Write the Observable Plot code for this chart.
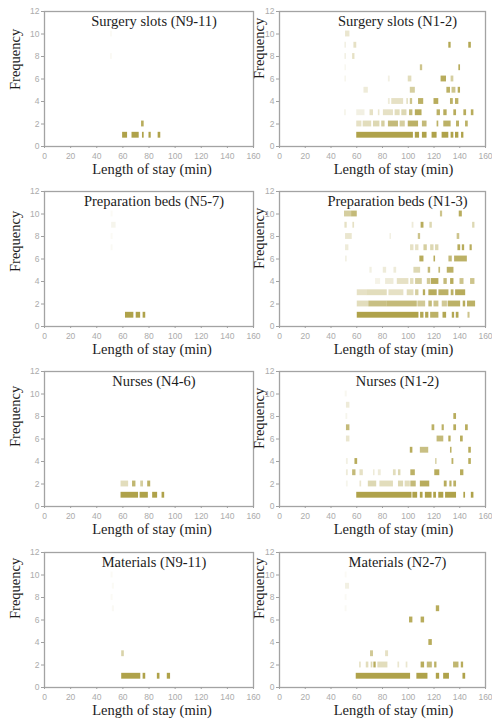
<!DOCTYPE html>
<html><head><meta charset="utf-8">
<script src="https://cdn.jsdelivr.net/npm/d3@7"></script>
<script src="https://cdn.jsdelivr.net/npm/@observablehq/plot@0.6"></script>
<style>
html,body{margin:0;padding:0;background:#fff;}
#wrap{position:relative;width:492px;height:719px;overflow:hidden;}
.panel{position:absolute;}
</style></head>
<body><div id="wrap"></div>
<script>
// x ticks and y ticks
const xTicks = [0, 20, 40, 60, 80, 100, 120, 140, 160];
const yTicks = [0, 2, 4, 6, 8, 10, 12];
const xLabel = "Length of stay (min)";
const yLabel = "Frequency";
const titles = ["Surgery slots (N9-11)", "Surgery slots (N1-2)", "Preparation beds (N5-7)", "Preparation beds (N1-3)",
                "Nurses (N4-6)", "Nurses (N1-2)", "Materials (N9-11)", "Materials (N2-7)"];

// each cell: [from min, to min, frequency, intensity]
const surgerySlotsN9_11 = [
  [59.8,63.6,1,0.95],[67,72.5,1,0.95],[75,76.3,1,0.95],[80,81.7,1,0.95],[87,89,1,0.95],
  [74.3,76.3,2,0.85],[50.5,52,10,0.05],[50.5,52,8,0.06]
];
const surgerySlotsN1_2 = [
  [60,104,1,0.95],[105.5,108.8,1,0.95],[111,114.6,1,0.95],[118.5,122.4,1,0.95],[126.3,131.5,1,0.95],[133.3,135.4,1,0.95],[136.7,139.3,1,0.95],[141.4,143.2,1,0.95],
  [60,64,2,0.3],[65,71.6,2,0.35],[73,78,2,0.4],[79.4,82,2,0.5],[84.6,92.4,2,0.7],[93.7,97.7,2,0.5],[100,108,2,0.8],[111,114.6,2,0.7],[122.4,123.7,2,0.8],[127.6,133.3,2,0.8],[137.5,139.8,2,0.8],[144.5,146.6,2,0.8],
  [50.5,52,3,0.1],[60,66.4,3,0.15],[70.3,73,3,0.3],[76.8,78,3,0.25],[80.7,88.5,3,0.3],[89.8,93.7,3,0.35],[95,99,3,0.4],[101,103.6,3,0.7],[105.5,110.7,3,0.85],[122.4,125,3,0.8],[127.6,130.2,3,0.85],[135.4,137.5,3,0.85],[143.2,145.3,3,0.85],[149,151,3,0.85],
  [84.6,86,4,0.2],[87.2,96.4,4,0.3],[99,100,4,0.4],[101.6,103.4,4,0.6],[108,112,4,0.8],[120,123.7,4,0.85],[132.8,135,4,0.8],[136.7,139.3,4,0.8],
  [65.6,69,5,0.2],[101.6,105.5,5,0.5],[130,132.8,5,0.8],[134,137,5,0.6],[138.8,140.6,5,0.85],
  [50.8,52,6,0.1],[84.6,86,6,0.15],[100,102.8,6,0.35],[125.5,129.7,6,0.85],[133.3,135.4,6,0.5],
  [50.8,52,7,0.08],[109.4,111.2,7,0.6],[139.3,140.6,7,0.85],
  [50.8,52,8,0.15],[56.8,58.6,8,0.3],
  [50.8,52,9,0.15],[57.8,60,9,0.3],[131.5,133.3,9,0.9],[147,149,9,0.9],
  [51.3,54.7,10,0.25]
];
const prepBedsN5_7 = [
  [62,68.4,1,0.95],[70.2,73.6,1,0.95],[75.5,77.5,1,0.95],
  [51,52.5,10,0.05],[51.4,54.8,9,0.1],[51,52.5,8,0.05],[51,52.5,7,0.06]
];
const prepBedsN1_3 = [
  [60.4,108.3,1,0.95],[109.6,112.2,1,0.9],[113.5,116,1,0.9],[117.4,123.8,1,0.8],[127,129.8,1,0.9],[134.2,136,1,0.9],[137.3,139.4,1,0.9],[146.4,148,1,0.6],
  [60.4,69.4,2,0.35],[69.4,83.7,2,0.65],[83.7,107,2,0.7],[107.5,113.5,2,0.55],[116,118.7,2,0.7],[120,123.8,2,0.6],[126.4,130.4,2,0.55],[131,140.7,2,0.8],[142.7,144.6,2,0.85],[146,152.3,2,0.8],
  [60.4,68,3,0.3],[68,83.7,3,0.35],[85,96.6,3,0.3],[99.2,104.4,3,0.35],[105.7,108.3,3,0.5],[111.7,113.5,3,0.85],[116,122.5,3,0.85],[123.8,131.6,3,0.8],[133.4,135.5,3,0.8],[136.8,144.6,3,0.85],
  [74.6,78.5,4,0.12],[82.4,88.9,4,0.2],[91.5,100.5,4,0.3],[101.8,104.4,4,0.35],[105.7,110.9,4,0.5],[114.8,117.4,4,0.55],[117.9,123.8,4,0.85],[127.7,130.3,4,0.7],[132.9,135.5,4,0.85],[140.2,143.3,4,0.6],[148.4,151.8,4,0.6],
  [70.2,72,5,0.15],[80.6,83.2,5,0.2],[88.9,91,5,0.2],[104.4,109.6,5,0.4],[115.5,117.4,5,0.7],[123.8,125.1,5,0.7],[130.3,135.5,5,0.8],
  [51.3,52.6,6,0.15],[109,112.2,6,0.85],[120,121.2,6,0.85],[131.6,134.2,6,0.7],[136,145.9,6,0.8],
  [51.3,53.9,7,0.2],[101.8,104.4,7,0.3],[105.7,108.3,7,0.3],[112.2,114.8,7,0.5],[117.4,120,7,0.4],[121.2,123.8,7,0.4],[138.6,140.7,7,0.85],[142,143.8,7,0.85],[148,149.7,7,0.85],
  [51.3,56.5,8,0.25],[85.8,87,8,0.15],[107.8,109.6,8,0.6],[138,140,8,0.6],
  [50.8,52.6,9,0.3],[57,58.3,9,0.3],[103,104.4,9,0.2],[110,112.2,9,0.85],[116.8,118.7,9,0.4],[150,151.8,9,0.4],
  [50.5,56,10,0.5],[56,60.4,10,0.7],[125,126.7,10,0.6],[139.6,142,10,0.85]
];
const nursesN4_6 = [
  [58.6,72,1,0.95],[73.2,79.5,1,0.95],[82.8,86.6,1,0.95],[90,92,1,0.95],
  [58.6,64.4,2,0.35],[67.4,70,2,0.75],[73.7,75.8,2,0.5],[79,81.3,2,0.8]
];
const nursesN1_2 = [
  [60,102.9,1,0.95],[103.6,107.3,1,0.95],[109.4,111.5,1,0.95],[113.3,118.5,1,0.95],[119.8,121.9,1,0.95],[123.7,127.6,1,0.95],[129,137.5,1,0.95],[143.2,144.5,1,0.95],[149,151,1,0.95],
  [52,53.4,2,0.1],[62.5,63.8,2,0.25],[69,75.5,2,0.4],[78,88.5,2,0.35],[92.4,96.4,2,0.4],[97.6,101.6,2,0.35],[102,106.2,2,0.7],[109.4,116.7,2,0.85],[128,130.2,2,0.85],[132.3,134,2,0.8],[135.4,137.5,2,0.8],
  [52,53.4,3,0.2],[56.8,59.4,3,0.7],[62.5,65.1,3,0.3],[73,74.2,3,0.2],[76.8,79,3,0.2],[88.5,90.6,3,0.35],[92.4,94.3,3,0.4],[102,105.5,3,0.8],[120.6,124.5,3,0.85],[140.6,143.2,3,0.85],
  [52,53.4,4,0.15],[58.6,60.7,4,0.85],[121.2,122.4,4,0.45],[134,135.4,4,0.8],[147,149,4,0.85],
  [101.6,103.6,5,0.85],[109.4,115.9,5,0.65],[132.8,134,5,0.8],[147,149,5,0.85],
  [52,54.7,6,0.25],[122.4,127.6,6,0.7],[131.5,133.3,6,0.85],[140.6,142.7,6,0.85],
  [52,54.7,7,0.7],[118.5,120.6,7,0.8],[126.3,128,7,0.8],[135.4,137.5,7,0.85],[144.5,146.6,7,0.85],
  [51.6,53,8,0.1],[135.4,137.5,8,0.85],
  [52,54.7,9,0.2],
  [51,52.6,10,0.08]
];
const materialsN9_11 = [
  [59.1,73.7,1,0.95],[75.5,77.5,1,0.95],[86.4,88.4,1,0.95],[94,96.5,1,0.95],
  [59.1,61.1,3,0.45],
  [51,52.5,10,0.05],[52,53.5,9,0.05],[51,52.5,8,0.05],[52,53.5,7,0.06]
];
const materialsN2_7 = [
  [59.6,101.8,1,0.95],[106.7,115.3,1,0.95],[121.8,124.4,1,0.95],[127.5,132,1,0.95],[142.5,144.6,1,0.95],
  [62.2,63.5,2,0.3],[67.4,69.4,2,0.35],[71.2,72.5,2,0.4],[73.3,75.1,2,0.85],[76.4,84.2,2,0.35],[92,93.3,2,0.25],[98.4,99.7,2,0.25],[110,112.7,2,0.85],[114.8,118.7,2,0.7],[120.5,122.3,2,0.8],[135.2,139.4,2,0.75],[141.2,143,2,0.85],
  [70.7,73,3,0.55],[82.4,84.7,3,0.3],
  [116,118.7,4,0.85],
  [101,103.6,6,0.85],[110,112.7,6,0.85],
  [121.8,124.4,7,0.85],
  [51,52.5,10,0.05],[51.3,54.4,9,0.15],[51,52.5,8,0.06],[51,52.5,7,0.06]
];

const panelsData = [surgerySlotsN9_11, surgerySlotsN1_2, prepBedsN5_7, prepBedsN1_3, nursesN4_6, nursesN1_2, materialsN9_11, materialsN2_7];

// layout
const rowTops = [0, 180, 360, 541];
const yLabelDy = [11, 0, 13, 10, 8, 10, -1, -1];
const COLOR = "#ab9d40";
const serif = "'Liberation Serif', 'Times New Roman', serif";

const wrap = document.getElementById("wrap");
panelsData.forEach((data, i) => {
  const col = i % 2, row = Math.floor(i / 2);
  const left = col === 0;
  const W = 256;
  const mL = left ? 44 : 43, mR = left ? 3 : 7;
  const chart = Plot.plot({
    width: W, height: 180,
    marginLeft: mL, marginRight: mR, marginTop: 11, marginBottom: 34,
    style: {background: "transparent", color: "#999", fontFamily: "'Liberation Sans', Arial, sans-serif", fontSize: "8px", overflow: "visible"},
    x: {domain: [0, 160], ticks: xTicks, label: null},
    y: {domain: [0, 12], ticks: yTicks, label: null},
    marks: [
      Plot.rect(data, {x1: d => d[0], x2: d => d[1], y1: d => d[2] - 0.26, y2: d => d[2] + 0.26, fill: COLOR, fillOpacity: d => d[3]}),
      Plot.frame({stroke: "#a3a3a3", strokeWidth: 1.3}),
      Plot.axisX({ticks: xTicks, tickSize: 2, tickPadding: 4, fontSize: 8.5, fill: "#ababab", stroke: "#a0a0a0", label: null}),
      Plot.axisY({ticks: yTicks, tickSize: 3, tickPadding: 2, fontSize: 8.5, fill: "#ababab", stroke: "#a0a0a0", label: null}),
      Plot.text([titles[i]], {frameAnchor: "top", lineAnchor: "top", dy: 4, dx: left ? 5 : 15, fontFamily: serif, fontSize: 14.5, fill: "#1c1c1c"}),
      Plot.text([xLabel], {frameAnchor: "bottom", lineAnchor: "middle", dy: 23, dx: left ? 3 : 11, fontFamily: serif, fontSize: 14.5, fill: "#1c1c1c"}),
      Plot.text([yLabel], {frameAnchor: "left", rotate: -90, dx: left ? -29 : -20, dy: yLabelDy[i], fontFamily: serif, fontSize: 14.5, fill: "#1c1c1c"})
    ]
  });
  const div = document.createElement("div");
  div.className = "panel";
  div.style.left = (left ? 0 : 236) + "px";
  div.style.top = rowTops[row] + "px";
  div.appendChild(chart);
  wrap.appendChild(div);
});
</script></body></html>
